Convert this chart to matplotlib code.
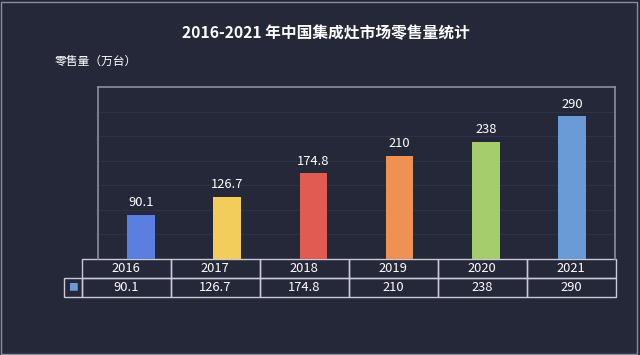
import matplotlib
matplotlib.use("Agg")
import matplotlib.pyplot as plt
from matplotlib.table import Table
from matplotlib.patches import Rectangle

plt.rcParams['font.family'] = ['Noto Sans CJK SC', 'DejaVu Sans']

# data
years = ['2016', '2017', '2018', '2019', '2020', '2021']
sales = [90.1, 126.7, 174.8, 210, 238, 290]
sales_text = ['90.1', '126.7', '174.8', '210', '238', '290']
bar_colors = ['#5b7fe0', '#f2cd5c', '#e05b52', '#ef9152', '#a6cd6c', '#6a9bd6']
legend_color = '#6a9bd6'

bg = '#252839'
frame = '#8d8fa0'
grid = '#2e3147'

fig = plt.figure(figsize=(6.4, 3.55), dpi=100, facecolor=bg)
ax = fig.add_axes([98/640, 1-259/355, 517/640, 172/355])
ax.set_facecolor(bg)

x = range(len(years))
ax.bar(x, sales, width=0.32, color=bar_colors, zorder=3)
for i, v in enumerate(sales):
    ax.annotate(sales_text[i], (i, v), xytext=(0, 4), textcoords='offset points',
                ha='center', va='bottom', color='white', fontsize=9.3)

ax.set_xlim(-0.5, 5.5)
ax.set_ylim(0, 350)
ax.set_yticks(range(50, 350, 50))
ax.yaxis.grid(True, color=grid, lw=0.8, zorder=0)
ax.set_xticks([])
ax.tick_params(left=False, labelleft=False)
for s in ax.spines.values():
    s.set_color(frame)
    s.set_linewidth(1.2)
ax.spines['bottom'].set_visible(False)

# data table under the chart
tb = Table(ax, bbox=[-17/517, -37.7/172, 1+17/517, 37.7/172])
cw = 1/6
for j, yr in enumerate(years):
    c = tb.add_cell(0, j, width=cw, height=1, text=yr, loc='center',
                    facecolor='none', edgecolor='#c9cad3')
    c.get_text().set_color('white')
    c = tb.add_cell(1, j, width=cw, height=1, text=sales_text[j], loc='center',
                    facecolor='none', edgecolor='#c9cad3')
    c.get_text().set_color('white')
c = tb.add_cell(1, -1, width=17/517, height=1, text='■', loc='center',
                facecolor='none', edgecolor='#c9cad3')
tb.auto_set_font_size(False)
tb.set_fontsize(9.3)
c.get_text().set_color(legend_color)
c.get_text().set_fontsize(7)
ax.add_table(tb)

fig.text(326/640, 1-33/355, '2016-2021 年中国集成灶市场零售量统计', ha='center', va='center',
         color='white', fontsize=11.3, fontweight='bold')
fig.text(55/640, 1-61/355, '零售量（万台）', ha='left', va='center',
         color='white', fontsize=8.5, fontweight='medium')

fig.patches.append(Rectangle((1/640, 1.5/355), 636/640, 352/355, transform=fig.transFigure,
                             fill=False, edgecolor='#8a8ca0', lw=1))

fig.savefig('out.png', dpi=100, facecolor=bg)
